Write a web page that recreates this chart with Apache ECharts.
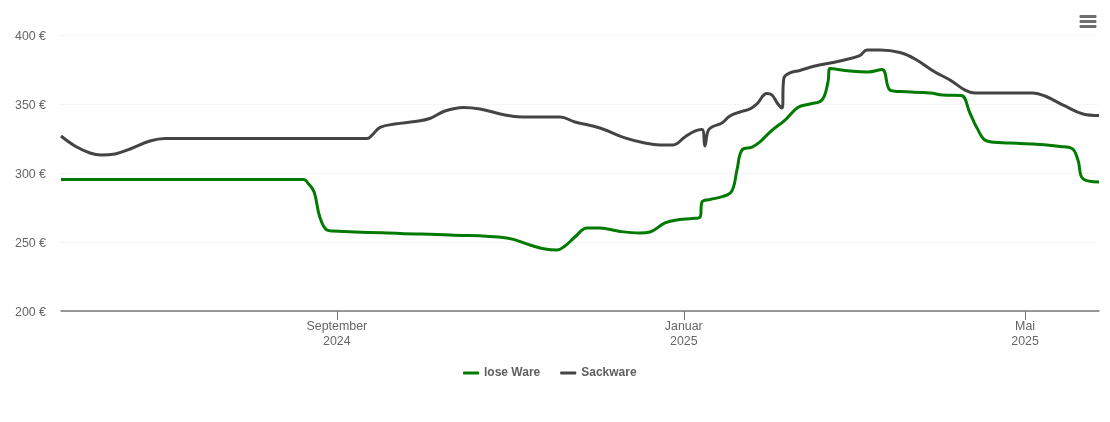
<!DOCTYPE html>
<html>
<head>
<meta charset="utf-8">
<style>html,body{margin:0;padding:0;background:#fff}#chart{width:1110px;height:422px}</style>
<script src="https://cdn.jsdelivr.net/npm/echarts@6/dist/echarts.min.js"></script>
</head>
<body>
<div id="chart"></div>
<script>
const loseDays = [0,85.4,86.8,89,91,93.5,95.6,119.2,136.8,156.8,164.9,170.2,174.4,177.2,180.7,185,189.5,196.6,203.6,207.1,212.4,217.6,221.9,224.7,225.4,228.2,232.8,235.9,237.7,239.5,243,245.8,249.3,254.6,259.1,263.4,267.6,269.7,270.4,277.4,283.8,288.7,291.5,295,305.6,310.1,316.5,319.6,322.1,325.6,333.7,344.2,351.3,355.5,357.6,359.4,365];
const loseValues = [295.3,295.3,292.8,286.2,268.1,258.7,258,256.2,255.1,252.9,247.8,244.9,244.2,247.1,253.6,260.1,260.1,257.6,256.5,257.2,263.8,266.3,267,268.1,279,280.8,283,287,302.2,316.7,318.8,322.5,329.7,338.4,347.5,350,352.9,365.9,375.7,373.9,373.2,375,360.1,359,358,356.5,356.2,343.5,332.6,323.2,321.7,320.7,319.2,317.8,309.4,295.7,293.5];
const sackDays = [0,4.9,10.2,14.1,19,24.3,31.3,36.6,41.8,107.6,109.4,112.2,117.4,124.5,129.7,135,141.4,147.3,156.1,162.1,175.5,180.7,189.5,198.3,205.3,210.6,215.2,219.4,222.9,225.4,226.4,227.5,228.9,232.4,235.2,238.7,242.3,244.7,248.2,250,252.1,253.5,254.2,256.3,259.8,265.1,273.9,280.9,283.4,288,295,300.3,307.3,312.6,317.9,321.4,341.8,346,353,359.4,365];
const sackValues = [326.8,319.6,314.5,313,313.8,317.4,323.2,325,325,325,327.5,333,335.5,337.3,339.5,344.9,347.5,346.4,342,340.6,340.6,337,332.6,325.4,321.7,320.3,320.3,326.1,330.4,331.5,319.6,330.4,333.3,336.2,341.3,344.2,346.4,350,357.6,356.5,350,347.1,368.8,372.5,374.3,377.5,381.2,385.1,389.1,389.1,387.3,382.6,373.2,367.4,360.1,358,358,355.8,348.6,342.8,341.7];
const tickDays = [97, 219, 339];
const tickLabels = ['September\n2024', 'Januar\n2025', 'Mai\n2025'];

const pairs = (days, values) => days.map((d, i) => [d, values[i]]);
const FONT = '"Liberation Sans", Arial, sans-serif';

const chart = echarts.init(document.getElementById('chart'), null, { renderer: 'canvas' });
chart.setOption({
  animation: false,
  backgroundColor: '#fff',
  textStyle: { fontFamily: FONT },
  color: ['#007a00', '#444444'],
  grid: { left: 61, right: 11, top: 35, bottom: 111 },
  xAxis: {
    type: 'value',
    min: 0,
    max: 365,
    splitLine: { show: false },
    axisLine: { lineStyle: { color: '#777', width: 1.5 } },
    axisTick: { customValues: tickDays, length: 9, lineStyle: { color: '#777' } },
    axisLabel: {
      customValues: tickDays,
      formatter: (v) => tickLabels[tickDays.indexOf(v)],
      color: '#666',
      fontSize: 12.4,
      lineHeight: 15,
      margin: 8,
      hideOverlap: false
    }
  },
  yAxis: {
    type: 'value',
    min: 200,
    max: 400,
    interval: 50,
    axisLine: { show: false },
    axisTick: { show: false },
    splitLine: { lineStyle: { color: '#ececec', type: 'dotted', width: 1 } },
    axisLabel: {
      formatter: '{a|{value} €}',
      margin: 15,
      rich: { a: { color: '#666', fontSize: 12.4, padding: [4, 0, 0, 0] } }
    }
  },
  legend: {
    top: 362,
    left: 458,
    icon: 'roundRect',
    itemWidth: 16,
    itemHeight: 3,
    itemGap: 20,
    textStyle: { color: '#5f5f5f', fontSize: 12, fontWeight: 'bold', fontFamily: FONT },
    data: ['lose Ware', 'Sackware']
  },
  series: [
    { name: 'lose Ware', type: 'line', showSymbol: false, smooth: 0.4, lineStyle: { width: 3 }, data: pairs(loseDays, loseValues) },
    { name: 'Sackware', type: 'line', showSymbol: false, smooth: 0.4, lineStyle: { width: 3 }, data: pairs(sackDays, sackValues) }
  ],
  graphic: [16, 21, 26].map((y) => ({
    type: 'rect',
    shape: { x: 1079.5, y: y - 1, width: 17, height: 3, r: 1 },
    style: { fill: '#6e6e6e' }
  }))
});
</script>
</body>
</html>
